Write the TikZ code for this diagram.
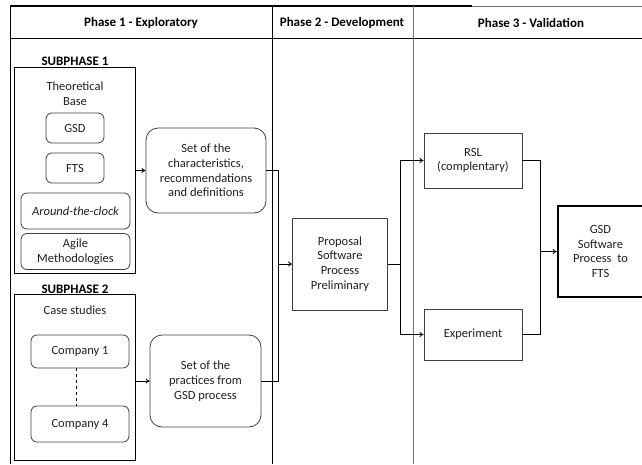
\documentclass[tikz,border=0pt]{standalone}
\usepackage{fontspec}
\setmainfont{Carlito}
\usetikzlibrary{arrows.meta}
\definecolor{linegray}{gray}{0.25}
\definecolor{colgray}{gray}{0.45}
\definecolor{txt}{gray}{0.12}
\begin{document}
\begin{tikzpicture}[x=1pt,y=-1pt,
  every node/.style={font=\fontsize{12.5}{14.8}\selectfont, align=center, inner sep=0pt, text=txt},
  frame/.style={draw=black, line width=0.9pt},
  roundbox/.style={draw=linegray, line width=0.8pt, rounded corners=6pt},
  biground/.style={draw=linegray, line width=0.8pt, rounded corners=12pt},
  sharpbox/.style={draw=linegray, line width=0.8pt},
  conn/.style={draw=black, line width=0.8pt},
  arr/.style={conn, -{To[length=4pt,width=5pt]}},
  hdr/.style={font=\bfseries\fontsize{13}{15}\selectfont, text=black}
]
\useasboundingbox (0,0) rectangle (642,464);
% table frame
\draw[line width=2pt] (10,6) -- (472,6);
\draw[colgray, line width=1pt] (472,6) -- (642,6);
\draw[frame] (10,5) -- (10,464);
\draw[frame] (10,38) -- (642,38);
\draw[frame] (272,6) -- (272,464);
\draw[colgray, line width=1pt] (413,6) -- (413,464);
\node[hdr] (h1) at (141,23) {Phase 1 - Exploratory};
\node[hdr] (h2) at (342,23) {Phase 2 - Development};
\node[hdr] (h3) at (531,23) {Phase 3 - Validation};

% subphase 1
\node[hdr] (s1lab) at (75,61) {SUBPHASE 1};
\node[frame, minimum width=121pt, minimum height=206pt] (sub1) at (74.5,170) {};
\node (tb) at (75,94) {Theoretical\\Base};
\node[roundbox, minimum width=58pt, minimum height=30pt] (gsd) at (75,128) {GSD};
\node[roundbox, minimum width=58pt, minimum height=30pt] (fts) at (75,168) {FTS};
\node[roundbox, minimum width=109pt, minimum height=36pt] (atc) at (75.5,211) {\itshape Around-the-clock};
\node[roundbox, minimum width=109pt, minimum height=36pt] (agile) at (75.5,251.5) {Agile\\Methodologies};
\node[biground, minimum width=120pt, minimum height=85pt] (chars) at (206,170.5) {Set of the\\characteristics,\\recommendations\\and definitions};

% subphase 2
\node[hdr] (s2lab) at (75,289) {SUBPHASE 2};
\node[frame, minimum width=121pt, minimum height=166pt] (sub2) at (74.5,377) {};
\node (cs) at (75,310) {Case studies};
\node[roundbox, minimum width=98pt, minimum height=33pt] (c1) at (80,351.5) {Company 1};
\node[roundbox, minimum width=98pt, minimum height=36pt] (c4) at (80,424) {Company 4};
\draw[conn, dashed] (c1.south -| 76,0) -- (c4.north -| 76,0);
\node[biground, minimum width=111pt, minimum height=92pt] (prac) at (205.5,381) {Set of the\\practices from\\GSD process};

% phase 2
\node[sharpbox, minimum width=95pt, minimum height=92pt] (prop) at (340,264) {Proposal\\Software\\Process\\Preliminary};

% phase 3
\node[sharpbox, minimum width=98pt, minimum height=55pt] (rsl) at (473,160.5) {RSL\\(complentary)};
\node[sharpbox, minimum width=98pt, minimum height=51pt] (exp) at (473,334.5) {Experiment};
\node[draw=black, line width=2.5pt, minimum width=85pt, minimum height=91pt] (final) at (600.5,251.5) {GSD\\Software\\Process~ to\\FTS};

% connectors
\coordinate (j1) at (278,264);
\coordinate (j2) at (400,264);
\coordinate (j3) at (540,251.5);
\draw[arr] (sub1.east |- chars.west) -- (chars.west);
\draw[arr] (sub2.east |- prac.west) -- (prac.west);
\draw[conn] (chars.east) -| (j1);
\draw[conn] (prac.east) -| (j1);
\draw[arr] (j1) -- (prop.west);
\draw[conn] (prop.east) -- (j2);
\draw[arr] (j2) |- (rsl.west);
\draw[arr] (j2) |- (exp.west);
\draw[conn] (rsl.east) -| (j3);
\draw[conn] (exp.east) -| (j3);
\draw[arr] (j3) -- (final.west);
\end{tikzpicture}
\end{document}
